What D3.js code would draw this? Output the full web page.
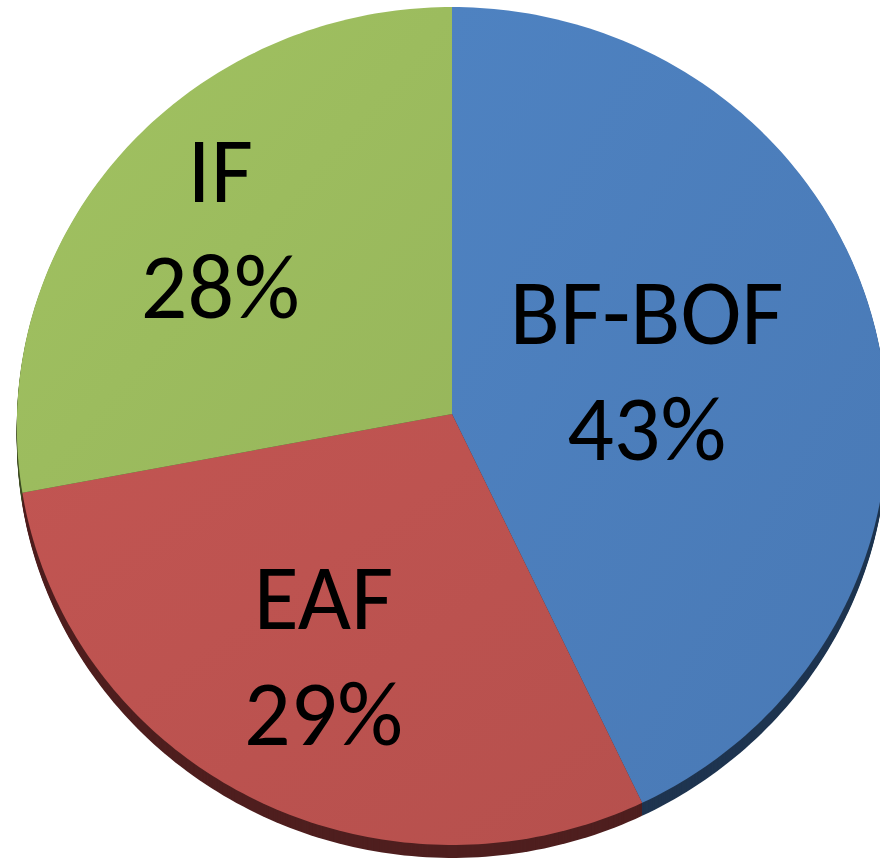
<!DOCTYPE html>
<html>
<head>
<meta charset="utf-8">
<script src="https://cdn.jsdelivr.net/npm/d3@7"></script>
<style>
  html, body { margin: 0; padding: 0; background: #fff; }
  svg { display: block; }
</style>
</head>
<body>
<script>
// chart data
const categories = ["BF-BOF", "EAF", "IF"];
const shares = [43, 29, 28];
const faceColors = ["#4b7dba", "#bb524f", "#9bbb5e"];
const sideColors = ["#1f3550", "#4f1f1f", "#3f4d25"];

const width = 880, height = 863;
const cx = 452, cy = 414;
const rx = 435, ry = 418.6;
const tilt = 0.0286;   // perspective: near edge slightly larger than far edge
const depth = 13;

const svg = d3.select("body").append("svg")
  .attr("width", width)
  .attr("height", height);

const defs = svg.append("defs");
faceColors.forEach((c, i) => {
  const g = defs.append("linearGradient")
    .attr("id", "grad" + i)
    .attr("x1", "0%").attr("y1", "0%").attr("x2", "100%").attr("y2", "100%");
  g.append("stop").attr("offset", "0%").attr("stop-color", d3.color(c).brighter(0.1));
  g.append("stop").attr("offset", "100%").attr("stop-color", d3.color(c).darker(0.08));
});

// unit disk -> screen, with slight perspective
function project(angle, r) {
  const x = Math.sin(angle) * r;
  const y = -Math.cos(angle) * r;
  const w = 1 - tilt * y;
  return [cx + rx * x / w, cy + ry * y / w];
}

const pie = d3.pie().sort(null).value(d => d)(shares);
const line = d3.line();

function slicePath(d, dy) {
  const pts = [];
  const c = project(0, 0);
  pts.push([c[0], c[1] + dy]);
  const n = Math.max(8, Math.ceil((d.endAngle - d.startAngle) * 60));
  for (let i = 0; i <= n; i++) {
    const a = d.startAngle + (d.endAngle - d.startAngle) * i / n;
    const p = project(a, 1);
    pts.push([p[0], p[1] + dy]);
  }
  return line(pts) + "Z";
}

// side wall: stacked copies of the slices shifted down
const side = svg.append("g");
for (let dy = depth; dy >= 1; dy--) {
  side.selectAll(null)
    .data(pie)
    .enter().append("path")
    .attr("d", d => slicePath(d, dy))
    .attr("fill", (d, i) => sideColors[i]);
}

// top face
svg.append("g").selectAll("path")
  .data(pie)
  .enter().append("path")
  .attr("d", d => slicePath(d, 0))
  .attr("fill", (d, i) => "url(#grad" + i + ")");

// labels
const labelR = [0.46, 0.64, 0.7];
const labels = svg.append("g")
  .attr("font-family", "Carlito, Calibri, Lato, 'Open Sans', sans-serif")
  .attr("font-size", 92)
  .attr("fill", "#000")
  .attr("text-anchor", "middle");

pie.forEach((d, i) => {
  const mid = (d.startAngle + d.endAngle) / 2;
  const p = project(mid, labelR[i]);
  const t = labels.append("text")
    .attr("x", p[0])
    .attr("y", p[1] - 28);
  t.append("tspan").attr("x", p[0]).attr("dy", 0).text(categories[i]);
  t.append("tspan").attr("x", p[0]).attr("dy", 116).text(shares[i] + "%");
});
</script>
</body>
</html>
